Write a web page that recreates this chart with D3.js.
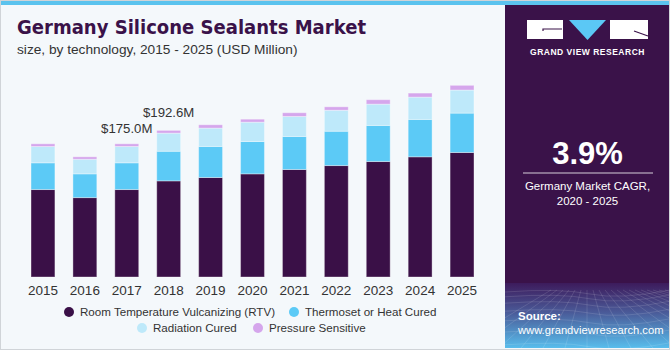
<!DOCTYPE html>
<html lang="en">
<head>
    <meta charset="UTF-8">
    <title>Germany Silicone Sealants Market</title>
    <script src="https://d3js.org/d3.v7.min.js"></script>
    <style>
        body { margin: 0; }
        svg { display: block; font-family: "Liberation Sans", Arial, sans-serif; }
    </style>
</head>
<body>
    <svg width="670" height="350"></svg>
    <script>
        const width = 670, height = 350;

        // data (USD Million)
        const years = ["2015", "2016", "2017", "2018", "2019", "2020", "2021", "2022", "2023", "2024", "2025"];
        const rtv = [114.9, 104.3, 114.9, 126.3, 130.7, 135.5, 141.2, 146.4, 151.7, 157.9, 163.6];
        const thermoset = [35.1, 31.2, 35.1, 38.9, 40.8, 42.5, 43.4, 45.1, 47.4, 49.1, 51.7];
        const radiation = [21.4, 19.2, 21.5, 23.8, 24.1, 25.4, 26.3, 27.6, 28.0, 29.3, 30.3];
        const pressure = [3.6, 3.2, 3.5, 3.6, 4.4, 3.9, 4.9, 4.5, 5.8, 5.3, 6.2];
        const seriesNames = ["Room Temperature Vulcanizing (RTV)", "Thermoset or Heat Cured", "Radiation Cured", "Pressure Sensitive"];
        const colors = ["#3a1047", "#5ccaf6", "#bee9fa", "#d5a6ec"];
        const labelYears = ["2017", "2018"];
        const labelTexts = ["$175.0M", "$192.6M"];

        const svg = d3.select("svg");

        // background
        svg.append("rect").attr("width", width).attr("height", height).attr("fill", "#f4f8fb");
        svg.append("rect").attr("width", width).attr("height", 5).attr("fill", "#5bc3ee");

        // right panel
        const defs = svg.append("defs");
        const grad = defs.append("linearGradient").attr("id", "srcGrad")
            .attr("x1", 0).attr("y1", 0).attr("x2", 0).attr("y2", 1);
        grad.append("stop").attr("offset", "0%").attr("stop-color", "#3d1b5c");
        grad.append("stop").attr("offset", "45%").attr("stop-color", "#4a5a98");
        grad.append("stop").attr("offset", "100%").attr("stop-color", "#58bdec");

        svg.append("rect").attr("x", 505).attr("y", 5).attr("width", 165).attr("height", 280).attr("fill", "#3a1249");
        svg.append("rect").attr("x", 505).attr("y", 283).attr("width", 165).attr("height", 65).attr("fill", "url(#srcGrad)");

        // faint wire grid in the source box
        const grid = svg.append("g").attr("stroke", "#ffffff").attr("stroke-opacity", 0.12).attr("fill", "none");
        d3.range(0, 9).forEach(i => {
            const yy = 292 + i * i * 0.8 + i * 4;
            grid.append("path").attr("d", `M505,${yy} Q560,${yy - 4} 590,${yy + 2} T670,${yy - 2}`);
        });
        d3.range(-6, 16).forEach(i => {
            grid.append("line").attr("x1", 587 + i * 6).attr("y1", 290).attr("x2", 587 + i * 22).attr("y2", 348);
        });

        // logo
        const logo = svg.append("g");
        logo.append("rect").attr("x", 527).attr("y", 20).attr("width", 36).attr("height", 19).attr("fill", "#fff");
        logo.append("path").attr("d", "M543,31 L543,29 L562,29").attr("stroke", "#3a1249").attr("stroke-width", 1.2).attr("fill", "none");
        logo.append("path").attr("d", "M569,20 L606,20 L587.5,40 Z").attr("fill", "#5bc8f5");
        logo.append("rect").attr("x", 610).attr("y", 20).attr("width", 38).attr("height", 19).attr("fill", "#fff");
        logo.append("path").attr("d", "M634,31 L648,36").attr("stroke", "#3a1249").attr("stroke-width", 1.2);
        logo.append("text").attr("x", 587.5).attr("y", 55).attr("text-anchor", "middle")
            .attr("fill", "#fff").attr("font-size", 8.5).attr("font-weight", "bold").attr("letter-spacing", 0.5)
            .text("GRAND VIEW RESEARCH");

        // CAGR
        svg.append("text").attr("x", 587.5).attr("y", 164).attr("text-anchor", "middle")
            .attr("fill", "#fff").attr("font-size", 31).attr("font-weight", "bold").text("3.9%");
        svg.append("line").attr("x1", 523).attr("x2", 653).attr("y1", 173).attr("y2", 173)
            .attr("stroke", "#ffffff").attr("stroke-opacity", 0.8);
        svg.append("text").attr("x", 587.5).attr("y", 190).attr("text-anchor", "middle")
            .attr("fill", "#fff").attr("font-size", 11.5).text("Germany Market CAGR,");
        svg.append("text").attr("x", 587.5).attr("y", 205).attr("text-anchor", "middle")
            .attr("fill", "#fff").attr("font-size", 11.5).text("2020 - 2025");

        // source
        svg.append("text").attr("x", 518).attr("y", 320).attr("fill", "#fff")
            .attr("font-size", 11.5).attr("font-weight", "bold").text("Source:");
        svg.append("text").attr("x", 518).attr("y", 334).attr("fill", "#fff")
            .attr("font-size", 11.2).text("www.grandviewresearch.com");

        // titles
        svg.append("text").attr("x", 17).attr("y", 34).attr("fill", "#3a1249")
            .attr("font-size", 20).attr("font-weight", 900).attr("textLength", 349)
            .attr("lengthAdjust", "spacingAndGlyphs")
            .style("font-family", "'DejaVu Sans', sans-serif")
            .text("Germany Silicone Sealants Market");
        svg.append("text").attr("x", 17).attr("y", 54).attr("fill", "#333")
            .attr("font-size", 13.7).text("size, by technology, 2015 - 2025 (USD Million)");

        // scales
        const x = d3.scaleBand().domain(years).range([13, 492]).padding(0.43);
        const y = d3.scaleLinear().domain([0, 250]).range([277, 86.7]);

        const table = years.map((yr, i) => ({ year: yr, s0: rtv[i], s1: thermoset[i], s2: radiation[i], s3: pressure[i] }));
        const stack = d3.stack().keys(["s0", "s1", "s2", "s3"])(table);

        svg.append("g")
            .selectAll("g")
            .data(stack)
            .join("g")
            .attr("fill", (d, i) => colors[i])
            .selectAll("rect")
            .data(d => d)
            .join("rect")
            .attr("x", d => x(d.data.year))
            .attr("y", d => y(d[1]))
            .attr("width", x.bandwidth())
            .attr("height", d => y(d[0]) - y(d[1]))
            .attr("stroke", "#ffffff")
            .attr("stroke-opacity", 0.35)
            .attr("stroke-width", 1);

        // x axis labels
        const xAxis = svg.append("g").attr("transform", "translate(0,277)")
            .call(d3.axisBottom(x).tickSize(0).tickPadding(8));
        xAxis.select(".domain").remove();
        xAxis.selectAll("text").attr("font-size", 13.5).attr("fill", "#333")
            .style("font-family", "'Liberation Sans', Arial, sans-serif");

        // value labels
        const totals = years.map((yr, i) => rtv[i] + thermoset[i] + radiation[i] + pressure[i]);
        svg.append("g").selectAll("text")
            .data(labelYears)
            .join("text")
            .attr("x", d => x(d) + x.bandwidth() / 2)
            .attr("y", (d, i) => y(totals[years.indexOf(d)]) - 11 - i * 2)
            .attr("text-anchor", "middle")
            .attr("font-size", 13.2)
            .attr("fill", "#333")
            .text((d, i) => labelTexts[i]);

        // legend
        const legendPos = [[69, 312], [294, 312], [142, 328], [258, 328]];
        const legend = svg.append("g").selectAll("g")
            .data(seriesNames)
            .join("g")
            .attr("transform", (d, i) => `translate(${legendPos[i][0]},${legendPos[i][1]})`);
        legend.append("circle").attr("r", 5).attr("fill", (d, i) => colors[i]);
        legend.append("text").attr("x", 11).attr("y", 4.2).attr("font-size", 11.6).attr("fill", "#333").text(d => d);

        // outer border
        svg.append("rect").attr("x", 0.5).attr("y", 0.5).attr("width", width - 1).attr("height", height - 1)
            .attr("fill", "none").attr("stroke", "#d0d4d8");
    </script>
</body>
</html>
